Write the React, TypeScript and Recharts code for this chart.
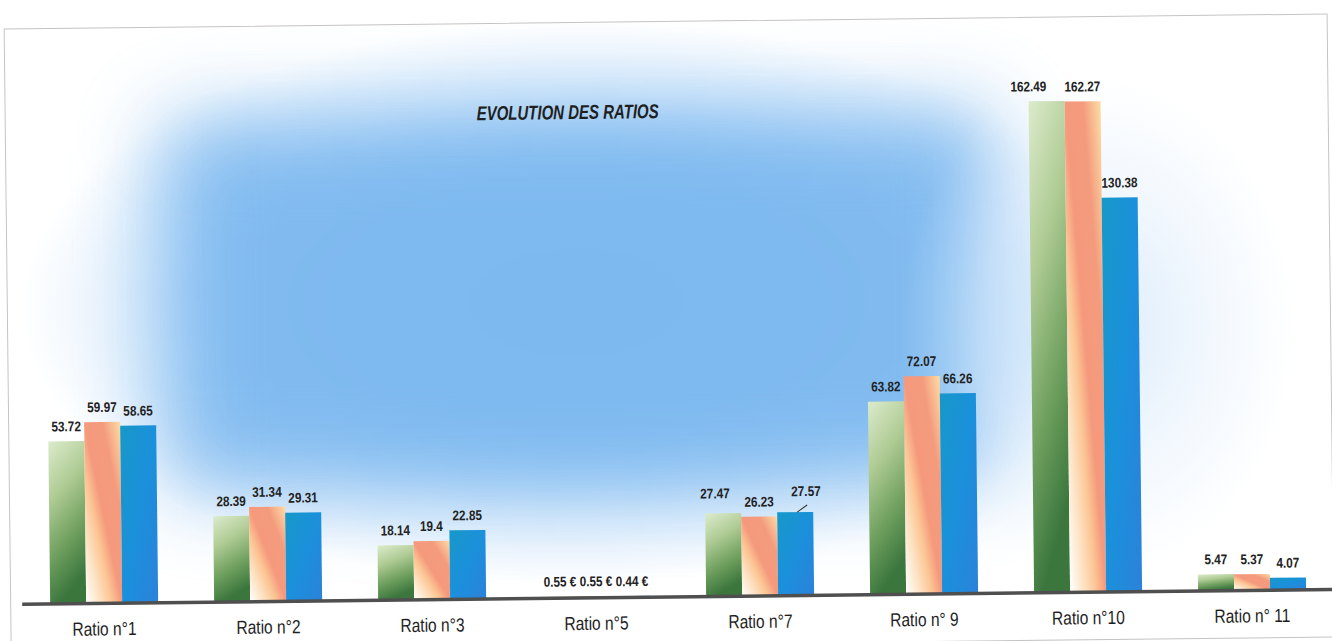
import React from 'react';
import { BarChart, Bar, XAxis, YAxis, LabelList } from 'recharts';

// Ratio categories along the horizontal axis
const categories = [
  'Ratio n°1',
  'Ratio n°2',
  'Ratio n°3',
  'Ratio n°5',
  'Ratio n°7',
  'Ratio n° 9',
  'Ratio n°10',
  'Ratio n° 11',
];

// Three successive periods for each ratio
const greenValues = [53.72, 28.39, 18.14, 0.55, 27.47, 63.82, 162.49, 5.47];
const orangeValues = [59.97, 31.34, 19.4, 0.55, 26.23, 72.07, 162.27, 5.37];
const blueValues = [58.65, 29.31, 22.85, 0.44, 27.57, 66.26, 130.38, 4.07];

// Ratios expressed in euros
const euroCategories = ['Ratio n°5'];

const chartTitle = 'EVOLUTION DES RATIOS';

const data = categories.map((category, i) => ({
  category,
  periodA: greenValues[i],
  periodB: orangeValues[i],
  periodC: blueValues[i],
}));

const FONT = '"Liberation Sans", Arial, sans-serif';

// Manual nudges for a few crowded value labels: [dx, lift, leader line]
const labelNudges: Record<string, [number, number, boolean]> = {
  'periodA|Ratio n°7': [-8, 5, false],
  'periodC|Ratio n°7': [11, 6, true],
  'periodA|Ratio n°10': [-18, 0, false],
};

const makeValueLabel = (seriesKey: string) => (props: any) => {
  const { x, y, width, value, index } = props;
  if (value == null) return null;
  const category = categories[index] ?? '';
  const text = euroCategories.includes(category) ? `${value} €` : String(value);
  const nudge = labelNudges[`${seriesKey}|${category}`] || [0, 0, false];
  const cx = Number(x) + Number(width) / 2;
  const top = Number(y);
  const baseline = top - 10 - nudge[1];
  return (
    <g>
      {nudge[2] && (
        <line
          x1={cx + 2}
          y1={top}
          x2={cx + 12}
          y2={top - 7}
          stroke="#333"
          strokeWidth={1}
        />
      )}
      <g transform={`translate(${cx + nudge[0]},${baseline}) scale(0.84,1)`}>
        <text
          x={0}
          y={0}
          textAnchor="middle"
          fontFamily={FONT}
          fontWeight={700}
          fontSize={14}
          fill="#222222"
        >
          {text}
        </text>
      </g>
    </g>
  );
};

const CategoryTick = (props: any) => {
  const { x, y, payload } = props;
  return (
    <g transform={`translate(${x},${y + 32}) scale(0.82,1)`}>
      <text
        x={0}
        y={0}
        textAnchor="middle"
        fontFamily={FONT}
        fontSize={19}
        fill="#1e1e1e"
      >
        {payload.value}
      </text>
    </g>
  );
};

export default function App() {
  return (
    <div
      style={{
        position: 'absolute',
        left: 0,
        top: 0,
        width: 1332,
        height: 641,
        overflow: 'hidden',
        background: '#ffffff',
      }}
    >
      {/* shared bar fills */}
      <svg width={0} height={0} style={{ position: 'absolute' }}>
        <defs>
          <linearGradient id="fillGreen" x1="0" y1="0" x2="0.25" y2="1">
            <stop offset="0" stopColor="#dcebcc" />
            <stop offset="0.35" stopColor="#b0cc95" />
            <stop offset="0.7" stopColor="#6e9f5e" />
            <stop offset="1" stopColor="#3b763d" />
          </linearGradient>
          <linearGradient id="fillOrange" x1="0" y1="1" x2="1" y2="0">
            <stop offset="0" stopColor="#ffffff" />
            <stop offset="0.2" stopColor="#fde2c2" />
            <stop offset="0.36" stopColor="#fcc594" />
            <stop offset="0.5" stopColor="#f5997d" />
            <stop offset="0.75" stopColor="#f49b7d" />
            <stop offset="1" stopColor="#fddca6" />
          </linearGradient>
          <linearGradient id="fillBlue" x1="0" y1="0" x2="1" y2="1">
            <stop offset="0" stopColor="#1798c8" />
            <stop offset="0.5" stopColor="#1b90db" />
            <stop offset="1" stopColor="#2b82da" />
          </linearGradient>
        </defs>
      </svg>

      <div
        style={{
          position: 'absolute',
          left: 0,
          top: 0,
          width: 1332,
          height: 641,
          transform: 'rotate(-0.65deg)',
          transformOrigin: '666px 320px',
        }}
      >
        {/* sky backdrop */}
        <div
          style={{
            position: 'absolute',
            left: 20,
            top: 20,
            width: 1160,
            height: 640,
            background:
              'radial-gradient(closest-side at 48% 44%, rgba(128,187,241,0.9) 0%, rgba(138,193,243,0.8) 45%, rgba(190,220,249,0.5) 75%, rgba(255,255,255,0) 100%)',
          }}
        />
        <div
          style={{
            position: 'absolute',
            left: 165,
            top: 115,
            width: 830,
            height: 370,
            background: '#7cb8ef',
            filter: 'blur(42px)',
            opacity: 0.92,
          }}
        />
        <div
          style={{
            position: 'absolute',
            left: 900,
            top: 80,
            width: 440,
            height: 500,
            background:
              'radial-gradient(closest-side at 45% 50%, rgba(205,228,250,0.7) 0%, rgba(225,238,252,0.4) 60%, rgba(255,255,255,0) 100%)',
          }}
        />

        {/* frame */}
        <div
          style={{
            position: 'absolute',
            left: 7,
            top: 21,
            width: 1322,
            height: 622,
            border: '1.5px solid #c4c4c4',
          }}
        />

        {/* title */}
        <svg
          width={1332}
          height={641}
          style={{ position: 'absolute', left: 0, top: 0 }}
        >
          <g transform="translate(570,118) scale(0.75,1)">
            <text
              x={0}
              y={0}
              textAnchor="middle"
              fontFamily={FONT}
              fontWeight={700}
              fontStyle="italic"
              fontSize={20}
              fill="#1f1f1f"
            >
              {chartTitle}
            </text>
          </g>
        </svg>

        <div style={{ position: 'absolute', left: 0, top: 0 }}>
          <BarChart
            width={1332}
            height={641}
            data={data}
            margin={{ top: 52.5, right: 1, bottom: 0, left: 19 }}
            barGap={0}
            barCategoryGap="17%"
          >
            <YAxis hide domain={[0, 180]} />
            <XAxis
              dataKey="category"
              height={44}
              interval={0}
              tickLine={false}
              tickSize={0}
              tickMargin={0}
              axisLine={{ stroke: '#4f4f4f', strokeWidth: 3.5 }}
              tick={<CategoryTick />}
            />
            <Bar dataKey="periodA" fill="url(#fillGreen)" barSize={36} isAnimationActive={false}>
              <LabelList dataKey="periodA" content={makeValueLabel('periodA')} />
            </Bar>
            <Bar dataKey="periodB" fill="url(#fillOrange)" barSize={36} isAnimationActive={false}>
              <LabelList dataKey="periodB" content={makeValueLabel('periodB')} />
            </Bar>
            <Bar dataKey="periodC" fill="url(#fillBlue)" barSize={36} isAnimationActive={false}>
              <LabelList dataKey="periodC" content={makeValueLabel('periodC')} />
            </Bar>
          </BarChart>
        </div>
      </div>
    </div>
  );
}
